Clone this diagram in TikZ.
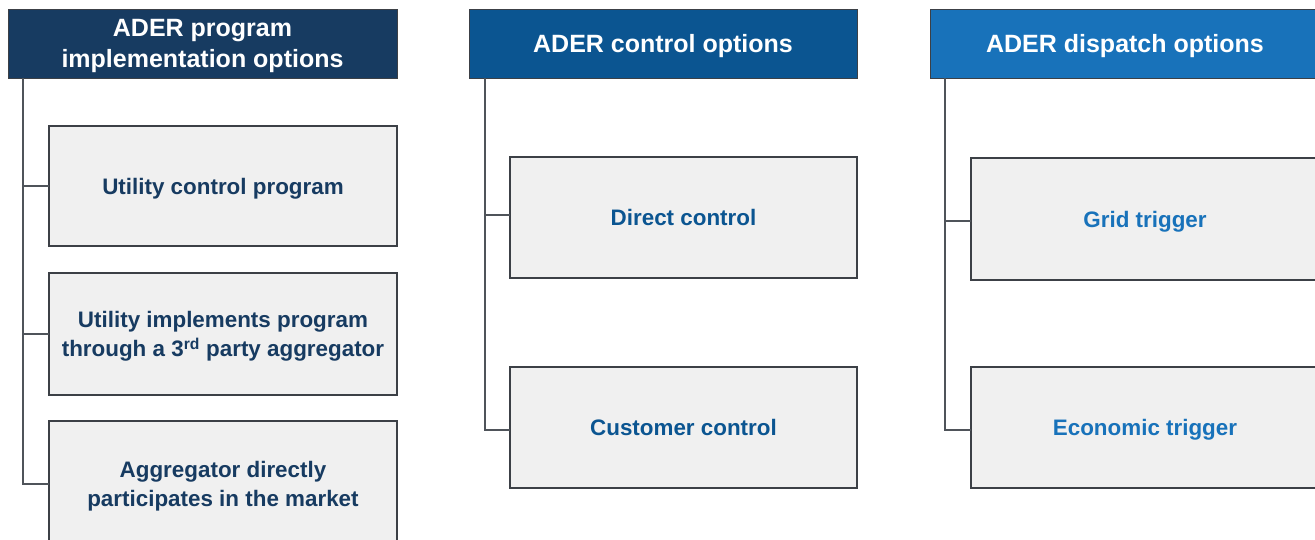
\documentclass[tikz,border=0pt]{standalone}
\usepackage{fontspec}
\setmainfont{Liberation Sans}
\definecolor{navy}{HTML}{173B61}
\definecolor{midblue}{HTML}{0B5591}
\definecolor{brightblue}{HTML}{1872BA}
\definecolor{boxfill}{HTML}{F0F0F0}
\definecolor{boxline}{HTML}{3C4046}
\definecolor{linkgray}{HTML}{4F545A}
\tikzset{
  header/.style={draw=boxline, line width=1pt, anchor=north west, inner sep=0pt, outer sep=0pt,
    minimum height=69pt, text depth=0pt, text=white, font=\bfseries\fontsize{25}{31}\selectfont, align=center},
  option/.style={draw=boxline, fill=boxfill, line width=1.4pt, anchor=north west, inner sep=0pt, outer sep=0pt,
    text depth=0pt, font=\bfseries\fontsize{22.4}{29}\selectfont, align=center},
  link/.style={draw=linkgray, line width=1.4pt}
}
\begin{document}
\begin{tikzpicture}[x=1pt,y=-1pt]
\useasboundingbox (0,0) rectangle (1315,539);
\clip (0,0) rectangle (1315,539);
\fill[white] (0,0) rectangle (1315,539);

% column 1: program implementation
\node[header, fill=navy, minimum width=389pt] (h1) at (8,9) {ADER program\\implementation options};
\node[option, text=navy, minimum width=348pt, minimum height=120pt] (a1) at (49,126) {Utility control program};
\node[option, text=navy, minimum width=348pt, minimum height=122pt] (a2) at (49,273) {Utility implements program\\through a 3\textsuperscript{rd} party aggregator};
\node[option, text=navy, minimum width=348pt, minimum height=126pt] (a3) at (49,421) {Aggregator directly\\participates in the market};
\draw[link] ([xshift=15pt]h1.south west) |- (a1.west);
\draw[link] ([xshift=15pt]h1.south west) |- (a2.west);
\draw[link] ([xshift=15pt]h1.south west) |- ([yshift=-63pt]a3.north west);

% column 2: control
\node[header, fill=midblue, minimum width=388pt] (h2) at (469,9) {ADER control options};
\node[option, text=midblue, minimum width=347pt, minimum height=121pt] (c1) at (510,157) {Direct control};
\node[option, text=midblue, minimum width=347pt, minimum height=121pt] (c2) at (510,367) {Customer control};
\draw[link] ([xshift=16pt]h2.south west) |- ([yshift=-58pt]c1.north west);
\draw[link] ([xshift=16pt]h2.south west) |- ([yshift=-63pt]c2.north west);

% column 3: dispatch
\node[header, fill=brightblue, minimum width=390pt] (h3) at (930,9) {ADER dispatch options};
\node[option, text=brightblue, minimum width=348pt, minimum height=122pt] (d1) at (971,158) {Grid trigger};
\node[option, text=brightblue, minimum width=348pt, minimum height=121pt] (d2) at (971,367) {Economic trigger};
\draw[link] ([xshift=15pt]h3.south west) |- ([yshift=-63pt]d1.north west);
\draw[link] ([xshift=15pt]h3.south west) |- ([yshift=-63pt]d2.north west);
\end{tikzpicture}
\end{document}
